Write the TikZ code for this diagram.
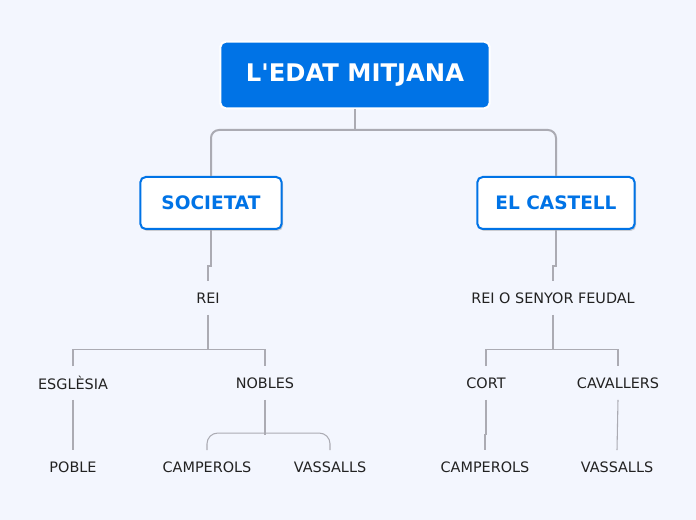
\documentclass[tikz,border=0pt]{standalone}
\usepackage{fontspec}
\setmainfont{DejaVu Sans}
\usetikzlibrary{shadows}
\definecolor{mapbg}{HTML}{F3F6FE}
\definecolor{mapblue}{HTML}{0073E6}
\definecolor{linegray}{HTML}{ABABB3}
\definecolor{textdark}{HTML}{222222}
\tikzset{
  rootbox/.style={rectangle, rounded corners=4pt, fill=mapblue, draw=white, line width=1.6pt,
    minimum width=202pt, minimum height=50pt, text=white, font=\bfseries\fontsize{18.2}{21}\selectfont},
  mainbox/.style={rectangle, rounded corners=4pt, fill=white, draw=mapblue, line width=1.5pt,
    minimum height=39pt, text=mapblue, font=\bfseries\fontsize{13.9}{16}\selectfont,
    drop shadow={shadow xshift=1pt, shadow yshift=-1.5pt, opacity=0.35}},
  leaf/.style={inner sep=0pt, minimum height=25pt, text=textdark, font=\fontsize{10.8}{13}\selectfont},
  trunk/.style={draw=linegray, line width=1.5pt, rounded corners=6pt},
  twig/.style={draw=linegray, line width=0.8pt},
}
\begin{document}
\begin{tikzpicture}[x=0.75pt, y=-0.75pt]
  \fill[mapbg] (0,0) rectangle (696,520);
  \useasboundingbox (0,0) rectangle (696,520);

  \node (root) at (355, 75) [rootbox] {L\textquotesingle EDAT MITJANA};
  \node (soc) at (211, 203) [mainbox, minimum width=106pt] {SOCIETAT};
  \node (cast) at (556, 203) [mainbox, minimum width=118pt] {EL CASTELL};

  \node (rei) at (208, 298) [leaf] {REI};
  \node (esg) at (73, 383) [leaf] {ESGLÈSIA};
  \node (nob) at (265, 383) [leaf] {NOBLES};
  \node (pob) at (73, 467) [leaf] {POBLE};
  \node (camp) at (207, 467) [leaf] {CAMPEROLS};
  \node (vass) at (330, 467) [leaf] {VASSALLS};

  \node (senyor) at (553, 298) [leaf] {REI O SENYOR FEUDAL};
  \node (cort) at (486, 383) [leaf] {CORT};
  \node (cav) at (618, 383) [leaf] {CAVALLERS};
  \node (camp2) at (485, 467) [leaf] {CAMPEROLS};
  \node (vass2) at (617, 467) [leaf] {VASSALLS};

  % main branches
  \draw[trunk] (root.south) -- ++(0,22);
  \draw[trunk] (soc.north) -- ++(0,-46) -| (cast.north);

  % societat
  \draw[twig] (soc.south) -- ++(0,36) -| (rei.north);
  \draw[twig] (rei.south) -- ++(0,34);
  \draw[twig] (esg.north) -- ++(0,-17) -| (nob.north);
  \draw[twig] (esg.south) -- (pob.north);
  \draw[twig] (nob.south) -- ++(0,35);
  \draw[twig, rounded corners=8pt] (camp.north) -- ++(0,-17) -| (vass.north);

  % el castell
  \draw[twig] (cast.south) -- ++(0,36) -| (senyor.north);
  \draw[twig] (senyor.south) -- ++(0,34);
  \draw[twig] (cort.north) -- ++(0,-17) -| (cav.north);
  \draw[twig] (cort.south) -- ++(0,35) -| (camp2.north);
  \draw[twig] (cav.south) -- (vass2.north);
\end{tikzpicture}
\end{document}
